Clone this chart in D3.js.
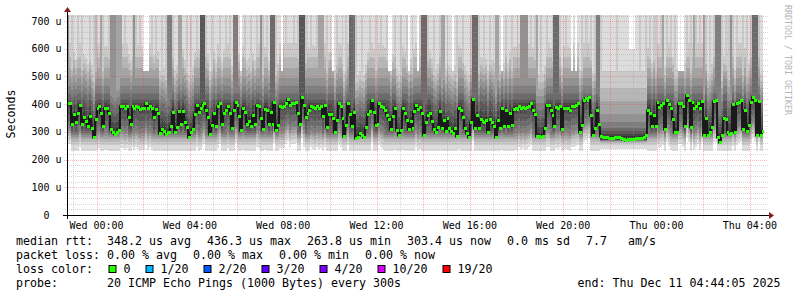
<!DOCTYPE html>
<html><head><meta charset="utf-8">
<script src="https://cdn.jsdelivr.net/npm/d3@7"></script>
<style>
html,body{margin:0;padding:0;background:#fff;}
svg{display:block;}
text{font-family:"DejaVu Sans Mono",monospace;white-space:pre;}
</style></head><body>
<svg id="c" width="797" height="297"></svg>
<script>
// ---------------- data ----------------
// median RTT (microseconds) of each 300 s step, starting Tue 22:45
const median = [
405,405,330,363,336,370,397,327,355,340,320,357,315,282,346,385,392,370,320,385,
385,367,310,301,292,301,307,392,392,385,392,355,330,394,385,394,389,382,385,385,
403,385,394,385,352,382,367,295,310,304,293,298,298,322,373,298,316,376,327,376,
336,316,282,298,310,364,397,373,385,397,406,380,355,292,325,367,322,392,406,327,
370,379,392,370,313,379,409,397,358,307,385,373,327,340,322,361,330,397,392,349,
310,383,379,330,373,327,409,307,325,392,389,392,406,418,397,406,406,409,367,330,
427,397,355,370,380,394,390,385,394,388,392,358,397,318,364,364,349,298,343,403,
394,349,286,325,403,364,320,373,277,282,295,289,280,318,364,376,415,373,325,328,
403,394,389,379,360,346,310,358,385,307,289,307,385,367,343,310,340,313,376,397,
382,389,367,289,336,361,367,340,310,301,319,376,315,343,304,349,313,304,295,313,
286,388,379,355,313,295,283,334,418,313,361,313,346,340,334,343,298,346,334,322,
280,343,313,385,322,379,322,367,325,382,385,382,394,385,391,385,390,394,403,380,
364,286,285,283,286,313,397,397,379,361,322,391,388,394,310,385,388,385,379,394,
394,398,403,298,325,415,421,415,427,361,289,313,379,330,286,283,280,280,279,277,
279,280,283,280,277,273,273,271,273,273,273,273,277,277,277,278,283,289,379,367,
322,361,322,409,391,397,403,310,415,400,385,346,301,301,406,406,395,322,433,415,
316,409,385,394,406,385,412,289,349,289,300,319,412,415,283,265,289,349,346,298,
292,295,400,298,403,409,415,310,379,304,325,409,427,415,289,412,289,303
];
// how many of the 20 pings of each step lie above the top of the graph
const overTop = [
5,1,2,1,1,2,1,2,1,1,1,2,1,2,3,1,1,4,2,1,
1,2,5,5,5,4,4,4,1,2,1,1,1,2,5,2,1,2,1,0,
0,0,1,2,1,2,1,1,2,1,2,6,6,6,2,1,1,4,4,1,
1,2,1,2,1,1,2,1,8,8,8,2,1,1,2,1,1,1,2,1,
1,2,1,2,1,6,6,6,1,0,1,2,1,1,2,1,1,2,1,5,
2,1,2,1,7,7,7,2,1,1,0,1,2,1,1,1,2,1,2,8,
8,8,2,1,1,2,1,1,2,4,4,4,1,2,1,1,0,1,2,1,
1,2,1,2,1,7,7,7,2,1,1,2,1,1,1,2,1,1,2,1,
1,2,1,1,2,0,0,1,2,1,1,2,1,1,2,0,1,2,1,1,
0,2,7,7,7,2,1,1,2,1,1,2,4,4,1,2,1,1,0,1,
2,1,1,2,1,1,1,2,7,7,7,2,1,1,2,1,1,2,1,1,
4,4,1,0,1,2,1,1,2,1,1,2,1,5,5,5,5,1,2,1,
2,4,1,2,1,1,2,1,1,2,7,7,7,2,1,1,2,1,1,0,
1,0,1,1,2,1,2,1,1,2,1,2,6,6,2,1,1,1,1,1,
1,1,2,1,1,1,1,1,1,0,0,0,1,1,2,1,1,2,1,2,
1,2,2,1,1,2,4,1,2,1,2,1,2,1,0,0,0,1,2,1,
2,1,4,2,1,2,1,4,2,1,2,1,2,6,6,6,2,1,2,1,
2,5,2,1,2,1,1,2,1,2,1,2,7,7,7,2,1,1
];
// steps where all pings stayed close together (quiet period)
const quietSpans = [[274, 297]];
// typical sorted ping spread (us): absolute levels and distance from the median
const lowerBase  = [232,252,264,273,281,288,295,303,315];
const lowerOff   = [150,135,120,110,100,90,70,45,15];
const upperBase  = [395,405,420,440,465,495,530,570,620,680];
const upperOff   = [12,35,65,95,120,145,170,195,225,260];
const openCap    = 520;   // steps whose slowest ping stayed on the graph
const lowerQuiet = [240,253,260,264,266,268,270,271,272];
const upperQuiet = [285,293,302,315,335,365,410,460,520,600];

const yTicks = [0,100,200,300,400,500,600,700];
const yTickLabels = ["  0  ","100 u","200 u","300 u","400 u","500 u","600 u","700 u"];
const xTickLabels = ["Wed 00:00","Wed 04:00","Wed 08:00","Wed 12:00","Wed 16:00","Wed 20:00","Thu 00:00","Thu 04:00"];
const lossLabels = ["0","1/20","2/20","3/20","4/20","10/20","19/20"];
const lossColors = ["#26ff00","#00b8ff","#0059ff","#5e00ff","#7e00ff","#dd00ff","#ff0000"];
const legendRtt  = ["median rtt:  348.2 us avg","436.3 us max","263.8 us min","303.4 us now","0.0 ms sd","7.7   am/s"];
const legendLoss = ["packet loss: 0.00 % avg","0.00 % max","0.00 % min","0.00 % now"];
const probeText = "probe:       20 ICMP Echo Pings (1000 Bytes) every 300s";
const endText = "end: Thu Dec 11 04:44:05 2025";

// ---------------- chart ----------------
const svg = d3.select("#c");
const P = {left:67, right:767, top:15, bottom:215};
const tStart = new Date(2025,11,9,22,44,5), tEnd = new Date(2025,11,11,4,44,5);
const firstStep = new Date(2025,11,9,22,45,0);
const STEP = 300000;
const yMax = 722;
const x = d3.scaleTime().domain([tStart,tEnd]).range([P.left,P.right]);
const y = d3.scaleLinear().domain([0,yMax]).range([P.bottom,P.top]);

svg.append("defs").append("clipPath").attr("id","pc")
  .append("rect").attr("x",P.left).attr("y",P.top).attr("width",P.right-P.left).attr("height",P.bottom-P.top);

const OVER = 5000;
function pingsFor(i){
  const m = median[i], c = overTop[i];
  const q = quietSpans.some(([a,b]) => i>=a && i<=b);
  let lo, up;
  if(q){
    lo = lowerQuiet.map(v=>Math.min(v,m));
    up = upperQuiet.map(v=>Math.max(v,m));
  } else {
    lo = lowerBase.map((v,k)=>Math.min(m, Math.max(v, m-lowerOff[k])));
    up = upperBase.map((v,k)=>Math.max(m, Math.min(v, m+upperOff[k])));
    if(c===0) up = up.map(v=>Math.min(v, Math.max(m, openCap)));
  }
  for(let k=1;k<lo.length;k++) lo[k]=Math.max(lo[k],lo[k-1]);
  for(let k=1;k<up.length;k++) up[k]=Math.max(up[k],up[k-1]);
  up = up.map((v,k)=> k >= 10-c ? OVER : v);
  return [...lo, m, ...up];
}
const bandGrey = d3.range(1,11).map(k => { const g = Math.floor(190/10*(10-k))+50; return d3.rgb(g,g,g).formatHex(); });

const cols = median.map((m,i)=>{
  const t0 = new Date(+firstStep + i*STEP), t1 = new Date(+firstStep + (i+1)*STEP);
  return {i, m, x0: Math.round(x(t0)), x1: Math.round(Math.min(x(t1), P.right)), p: pingsFor(i)};
});

const smoke = svg.append("g").attr("clip-path","url(#pc)").attr("shape-rendering","crispEdges");
cols.forEach(c=>{
  for(let k=1;k<=10;k++){
    const lo = c.p[k-1], hi = c.p[20-k];
    const yt = Math.round(y(Math.min(hi, yMax+5))), yb = Math.round(y(lo));
    if(yb<=yt) continue;
    smoke.append("rect").attr("x",c.x0).attr("width",c.x1-c.x0)
      .attr("y",yt).attr("height",yb-yt).attr("fill",bandGrey[k-1]);
  }
});

// grid
const grid = svg.append("g").attr("shape-rendering","crispEdges");
const minorY = d3.range(20,yMax,20).filter(v=>v%100!==0);
grid.selectAll(".hmin").data(minorY).join("line")
  .attr("x1",P.left-2).attr("x2",P.right+1).attr("y1",d=>Math.round(y(d))+0.5).attr("y2",d=>Math.round(y(d))+0.5)
  .attr("stroke","#9a9a9a").attr("stroke-opacity",0.4).attr("stroke-dasharray","1,1");
grid.selectAll(".hmaj").data(yTicks.filter(v=>v>0)).join("line")
  .attr("x1",P.left-3).attr("x2",P.right+1).attr("y1",d=>Math.round(y(d))+0.5).attr("y2",d=>Math.round(y(d))+0.5)
  .attr("stroke","#f03030").attr("stroke-opacity",0.33).attr("stroke-dasharray","1,1");
const hours = d3.timeHour.range(tStart,tEnd);
grid.selectAll(".v").data(hours).join("line")
  .attr("x1",d=>Math.round(x(d))+0.5).attr("x2",d=>Math.round(x(d))+0.5)
  .attr("y1",P.top).attr("y2",P.bottom+3)
  .attr("stroke",d=>d.getHours()%2===0?"#f03030":"#9a9a9a")
  .attr("stroke-opacity",d=>d.getHours()%2===0?0.33:0.4)
  .attr("stroke-dasharray","1,1");

// median line
const clipG = svg.append("g").attr("clip-path","url(#pc)");
let d = "";
cols.forEach((c,j)=>{ const yy = Math.round(y(c.m))+0.5; d += (j===0?`M${c.x0},${yy}`:`V${yy}`) + `H${c.x1}`; });
clipG.append("path").attr("d",d).attr("fill","none").attr("stroke","#1a1a1a").attr("stroke-width",2);
clipG.selectAll(".g").data(cols).join("rect")
  .attr("x",c=>c.x0-0.5).attr("width",c=>c.x1-c.x0+1)
  .attr("y",c=>Math.round(y(c.m))-1).attr("height",3)
  .attr("fill",lossColors[0]).attr("shape-rendering","crispEdges");

// axes
const ax = svg.append("g").attr("shape-rendering","crispEdges");
ax.append("line").attr("x1",P.left-4).attr("x2",P.right+2).attr("y1",P.bottom+0.5).attr("y2",P.bottom+0.5).attr("stroke","#000");
ax.append("line").attr("x1",P.left+0.5).attr("x2",P.left+0.5).attr("y1",P.bottom+4).attr("y2",P.top-4).attr("stroke","#000");
svg.append("path").attr("d",`M${P.right+2},${P.bottom-3}L${P.right+7},${P.bottom+0.5}L${P.right+2},${P.bottom+4}Z`).attr("fill","#8b1c1c");
svg.append("path").attr("d",`M${P.left-3},${P.top-3}L${P.left+0.5},${P.top-8}L${P.left+4},${P.top-3}Z`).attr("fill","#8b1c1c");

// tick labels
svg.selectAll(".yl").data(yTicks).join("text")
  .attr("x",61.5).attr("y",v=>y(v)+3.6).attr("text-anchor","end")
  .attr("font-size","10px").attr("fill","#000").text((v,i)=>yTickLabels[i]);
const xTicks = d3.range(0,8).map(k=>new Date(2025,11,10,4*k,0,0));
svg.selectAll(".xl").data(xTicks).join("text")
  .attr("x",t=>x(t)).attr("y",228.5).attr("text-anchor","middle")
  .attr("font-size","10px").attr("fill","#000").text((t,i)=>xTickLabels[i]);

svg.append("text").attr("transform","translate(14.5,114) rotate(-90)").attr("text-anchor","middle")
  .attr("font-size","11.6px").attr("fill","#000").text("Seconds");
svg.append("text").attr("transform","translate(784.5,5) rotate(90)")
  .attr("font-size","8.3px").attr("fill","#b4b4b4").text("RRDTOOL / TOBI OETIKER");

// legend
const FS = "11.63px";
const rowY = [244.8, 258.7, 272.6, 286.5];
function row(items, yy){
  let cx = 16;
  items.forEach(s=>{
    const t = svg.append("text").attr("x",cx).attr("y",yy).attr("font-size",FS).attr("fill","#000").text(s);
    cx += t.node().getComputedTextLength() + 16;
  });
}
row(legendRtt,rowY[0]);
row(legendLoss,rowY[1]);
svg.append("text").attr("x",16).attr("y",rowY[2]).attr("font-size",FS).text("loss color:");
let bx = 108.5;
lossLabels.forEach((s,i)=>{
  svg.append("rect").attr("x",bx+0.5).attr("y",265.5).attr("width",7).attr("height",7)
    .attr("fill",lossColors[i]).attr("stroke","#000").attr("stroke-width",1);
  const t = svg.append("text").attr("x",bx+15).attr("y",rowY[2]).attr("font-size",FS).text(s);
  bx += 15 + t.node().getComputedTextLength() + 15;
});
svg.append("text").attr("x",16).attr("y",rowY[3]).attr("font-size",FS).text(probeText);
svg.append("text").attr("x",780.5).attr("y",rowY[3]).attr("text-anchor","end").attr("font-size",FS).text(endText);
</script>
</body></html>
